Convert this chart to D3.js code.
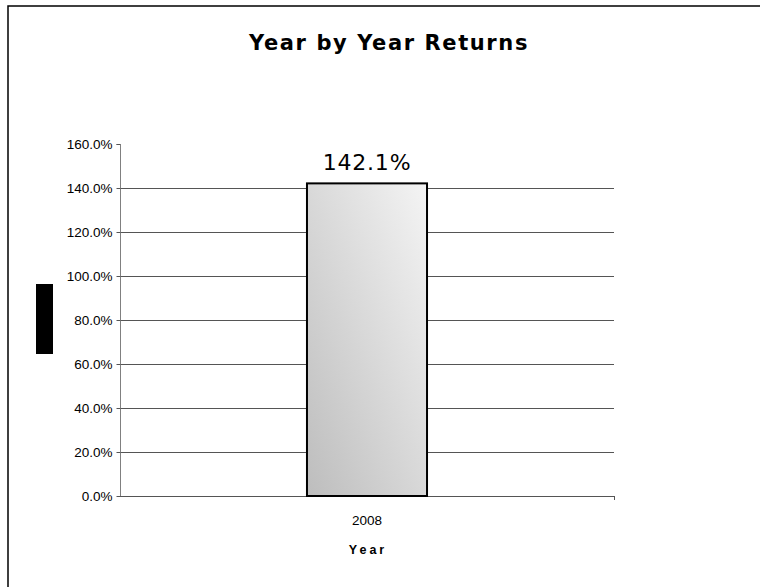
<!DOCTYPE html>
<html><head><meta charset="utf-8">
<script src="https://cdn.jsdelivr.net/npm/d3@7"></script>
<style>body{margin:0;background:#fff}svg{display:block}</style>
</head><body>
<script>
const categories = ["2008"];
const returns = [142.1];
const yTicks = [0,20,40,60,80,100,120,140,160];
const title = "Year by Year Returns";
const xTitle = "Year";

const W=760,H=587;
const svg=d3.select("body").append("svg").attr("width",W).attr("height",H);
svg.append("rect").attr("x",8).attr("y",6).attr("width",W).attr("height",H).attr("fill","#fff").attr("stroke","#000").attr("stroke-width",1.5);

const defs=svg.append("defs");
const g=defs.append("linearGradient").attr("id","bg").attr("x1","0").attr("y1","1").attr("x2","1").attr("y2","0");
g.append("stop").attr("offset","0").attr("stop-color","#bdbdbd");
g.append("stop").attr("offset","1").attr("stop-color","#f4f4f4");

const x0=120,x1=614,yTop=144,yBot=496;
const y=d3.scaleLinear().domain([0,160]).range([yBot,yTop]);
const x=d3.scaleBand().domain(categories).range([x0,x1]).paddingInner(0.757).paddingOuter(0.3785);

// gridlines
svg.append("g").selectAll("line").data(yTicks.filter(d=>d>0 && d<160)).join("line")
 .attr("x1",x0).attr("x2",x1).attr("y1",d=>y(d)+0.5).attr("y2",d=>y(d)+0.5)
 .attr("stroke","#555").attr("stroke-width",1);

// y axis
const ya=svg.append("g").attr("transform",`translate(${x0+0.5},0)`)
 .call(d3.axisLeft(y).tickValues(yTicks).tickSize(4).tickPadding(4).tickFormat(d=>d3.format(".1f")(d)+"%"));
ya.select(".domain").attr("stroke","#808080").attr("d",`M-4,${yTop+0.5}H0V${yBot+0.5}`);
ya.selectAll(".tick line").attr("stroke","#555");
ya.selectAll("text").attr("font-family","Liberation Sans, Arial, sans-serif").attr("font-size",13.5).attr("fill","#000");

// x axis
svg.append("line").attr("x1",x0).attr("x2",x1+0.5).attr("y1",yBot+0.5).attr("y2",yBot+0.5).attr("stroke","#555");
svg.append("line").attr("x1",x1+0.5).attr("x2",x1+0.5).attr("y1",yBot).attr("y2",yBot+4).attr("stroke","#555");
svg.append("g").selectAll("text").data(categories).join("text")
 .attr("x",d=>x(d)+x.bandwidth()/2).attr("y",525).attr("text-anchor","middle")
 .attr("font-family","Liberation Sans, Arial, sans-serif").attr("font-size",13.5).text(d=>d);

// bars
svg.append("g").selectAll("rect").data(returns).join("rect")
 .attr("x",(d,i)=>x(categories[i])).attr("width",x.bandwidth())
 .attr("y",d=>y(d)).attr("height",d=>yBot-y(d))
 .attr("fill","url(#bg)").attr("stroke","#000").attr("stroke-width",2);

svg.append("g").selectAll("text").data(returns).join("text")
 .attr("x",(d,i)=>x(categories[i])+x.bandwidth()/2).attr("y",d=>y(d)-13)
 .attr("text-anchor","middle").attr("font-family","DejaVu Sans, Verdana, sans-serif").attr("font-size",22).attr("letter-spacing",0.8)
 .text(d=>d3.format(".1f")(d)+"%");

// titles
svg.append("text").attr("x",389).attr("y",50).attr("text-anchor","middle")
 .attr("font-family","DejaVu Sans, Verdana, sans-serif").attr("font-weight","bold").attr("font-size",21).attr("letter-spacing",1.6).text(title);
svg.append("text").attr("x",x(categories[0])+x.bandwidth()/2+1).attr("y",554).attr("text-anchor","middle")
 .attr("font-family","Liberation Sans, Arial, sans-serif").attr("font-weight","bold").attr("font-size",12.5).attr("letter-spacing",3).text(xTitle);

// y axis title block (rendered as solid block in reference)
svg.append("rect").attr("x",36).attr("y",284).attr("width",17).attr("height",70).attr("fill","#000");
</script>
</body></html>
